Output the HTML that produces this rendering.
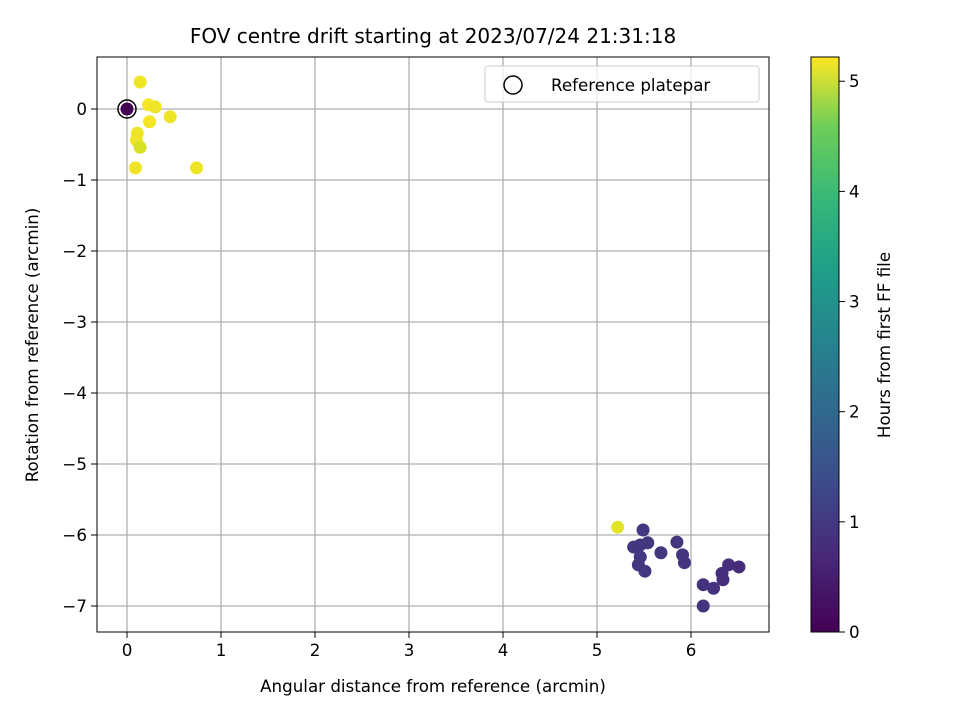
<!DOCTYPE html>
<html><head><meta charset="utf-8"><style>
body{margin:0;background:#fff}
svg text{font-family:"DejaVu Sans","Liberation Sans",sans-serif;fill:#000}
</style></head><body>
<svg id="chart" width="960" height="720" xmlns="http://www.w3.org/2000/svg">
<defs><linearGradient id="vir" x1="0" y1="1" x2="0" y2="0">
<stop offset="0" stop-color="#440154"/><stop offset="0.13" stop-color="#482878"/><stop offset="0.25" stop-color="#3e4989"/><stop offset="0.38" stop-color="#31688e"/><stop offset="0.5" stop-color="#26828e"/><stop offset="0.63" stop-color="#1f9e89"/><stop offset="0.75" stop-color="#35b779"/><stop offset="0.88" stop-color="#6ece58"/><stop offset="1" stop-color="#fde725"/></linearGradient></defs>
<text x="433" y="43" style="font-size:20px" text-anchor="middle">FOV centre drift starting at 2023/07/24 21:31:18</text>
<g id="grid"></g>
<g id="pts"></g>
<rect x="97" y="57" width="672" height="575" fill="none" stroke="#000" stroke-width="1"/>
<g id="ticks"></g>
<text x="433" y="692" style="font-size:16.7px" text-anchor="middle">Angular distance from reference (arcmin)</text>
<text transform="translate(38,345) rotate(-90)" style="font-size:16.7px" text-anchor="middle">Rotation from reference (arcmin)</text>
<g>
<rect x="485" y="66" width="274" height="36" rx="3" fill="#fff" fill-opacity="0.8" stroke="#ccc"/>
<circle cx="513" cy="85" r="9" fill="none" stroke="#000" stroke-width="1.5"/>
<text x="551" y="91" style="font-size:16.7px">Reference platepar</text>
</g>
<rect x="811" y="57" width="28" height="575" fill="url(#vir)" stroke="#000" stroke-width="1"/>
<g id="cbticks"></g>
<text transform="translate(890,345) rotate(-90)" style="font-size:16.7px" text-anchor="middle">Hours from first FF file</text>
</svg>
<script>
const xs=[0,0.14,0.23,0.30,0.24,0.46,0.11,0.10,0.14,0.09,0.74,5.22,5.49,5.46,5.54,5.46,5.44,5.51,5.68,5.85,5.91,5.93,6.13,6.24,6.33,6.40,6.51,6.34,6.13,5.39];
const ys=[0,0.38,0.06,0.03,-0.18,-0.11,-0.34,-0.44,-0.54,-0.83,-0.83,-5.89,-5.93,-6.14,-6.11,-6.31,-6.42,-6.51,-6.25,-6.10,-6.28,-6.39,-6.70,-6.75,-6.54,-6.42,-6.45,-6.63,-7.00,-6.17];
const hours=[0,5.1,5.15,5.1,5.15,5.1,5.1,5.1,4.9,5.1,5.1,5.0,0.85,0.85,0.85,0.85,0.85,0.85,0.85,0.8,0.8,0.8,0.75,0.75,0.7,0.7,0.65,0.7,0.8,0.85];
const xTicks=[0,1,2,3,4,5,6];
const yTicks=[0,-1,-2,-3,-4,-5,-6,-7];
const cTicks=[0,1,2,3,4,5];
const X=v=>127+v*94, Y=v=>109-v*71, C=v=>632-v*(575/5.22);
const NS="http://www.w3.org/2000/svg";
function mk(t,a,p){const e=document.createElementNS(NS,t);for(const k in a)e.setAttribute(k,a[k]);p.appendChild(e);return e;}
const vir=[[68,1,84],[72,40,120],[62,73,137],[49,104,142],[38,130,142],[31,158,137],[53,183,121],[110,206,88],[181,222,43],[253,231,37]];
function col(h){let t=Math.max(0,Math.min(1,h/5.22))*(vir.length-1);let i=Math.min(Math.floor(t),vir.length-2),f=t-i;const c=vir[i].map((v,k)=>Math.round(v+(vir[i+1][k]-v)*f));return `rgb(${c})`;}
const g=document.getElementById('grid'),tk=document.getElementById('ticks'),p=document.getElementById('pts'),cb=document.getElementById('cbticks');
xTicks.forEach(v=>{
 const l=mk('line',{x1:X(v),x2:X(v),y1:57,y2:632,stroke:'#b0b0b0','stroke-width':1.3},g);
 
 mk('line',{x1:X(v),x2:X(v),y1:632,y2:638,stroke:'#000'},tk);
 const t=mk('text',{x:X(v),y:656,style:'font-size:16.7px','text-anchor':'middle'},tk);t.textContent=v;
 
});
yTicks.forEach(v=>{
 const l=mk('line',{x1:97,x2:769,y1:Y(v),y2:Y(v),stroke:'#b0b0b0','stroke-width':1.3},g);
 
 mk('line',{x1:91,x2:97,y1:Y(v),y2:Y(v),stroke:'#000'},tk);
 const t=mk('text',{x:87,y:Y(v)+6,style:'font-size:16.7px','text-anchor':'end'},tk);t.textContent=v<0?'\u2212'+(-v):v;
 
});
cTicks.forEach(v=>{
 mk('line',{x1:839,x2:845,y1:C(v),y2:C(v),stroke:'#000'},cb);
 const t=mk('text',{x:849,y:C(v)+6,style:'font-size:16.7px'},cb);t.textContent=v;
 
});
xs.forEach((x,i)=>{
 const c=mk('circle',{cx:X(x),cy:Y(ys[i]),r:6.5,fill:col(hours[i])},p);
 
});
const r=mk('circle',{cx:X(0),cy:Y(0),r:9,fill:'none',stroke:'#000','stroke-width':1.5},p);


</script>
</body></html>
